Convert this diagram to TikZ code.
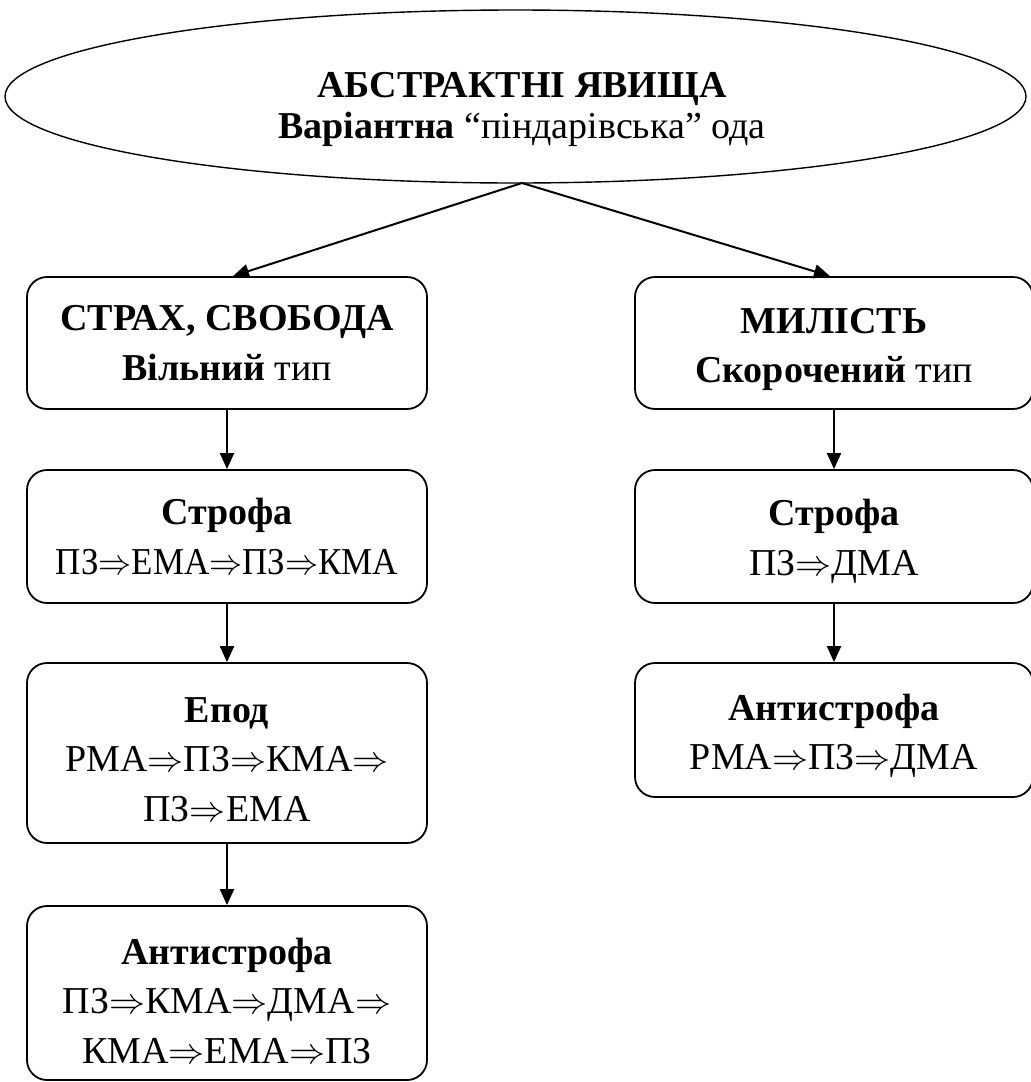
\documentclass[tikz,border=0pt]{standalone}
\usepackage{fontspec}
\setmainfont{Liberation Serif}
\usetikzlibrary{shapes.geometric,arrows.meta}
% double arrow between abbreviations
\newcommand{\ra}{\scalebox{1.45}{$\Rightarrow$}}
% taller first line lowers the text block inside its box
\newcommand{\linestrut}[1]{\rule{0pt}{#1}}
\begin{document}
\begin{tikzpicture}[x=1pt,y=-1pt,
  box/.style={draw, line width=1.8pt, rounded corners=20pt, align=center,
    inner sep=0pt, font=\fontsize{38}{49.5}\selectfont},
  lbl/.style={align=center, inner sep=0pt, font=\fontsize{38}{41}\selectfont},
  arr/.style={-{Triangle[length=16pt,width=14pt]}, line width=2pt}]
\useasboundingbox (0,0) rectangle (1031,1082);

% top ellipse
\node[ellipse, draw, line width=1.4pt, minimum width=1021pt, minimum height=173pt,
  inner sep=0pt] (root) at (515.5,96.5) {};
\node[lbl] (rootlbl) at (522,109) {\textbf{АБСТРАКТНІ ЯВИЩА}\\\textbf{Варіантна} “піндарівська” ода};
\coordinate (apex) at (522,183);

% left column
\node[box, minimum width=400pt, minimum height=132pt] (l1) at (227,343)
  {\textbf{СТРАХ, СВОБОДА}\\\textbf{Вільний} тип};
\node[box, minimum width=400pt, minimum height=133pt] (l2) at (227,536.5)
  {\textbf{Строфа}\\\scalebox{0.92}[1]{ПЗ\ra ЕМА\ra ПЗ\ra КМА}};
\node[box, minimum width=400pt, minimum height=180pt] (l3) at (227,753)
  {\linestrut{38pt}\textbf{Епод}\\РМА\ra ПЗ\ra КМА\ra\\ПЗ\ra ЕМА};
\node[box, minimum width=400pt, minimum height=174pt] (l4) at (227,993)
  {\linestrut{42pt}\textbf{Антистрофа}\\ПЗ\ra КМА\ra ДМА\ra\\КМА\ra ЕМА\ra ПЗ};

% right column
\node[box, minimum width=398pt, minimum height=132pt] (r1) at (834,343)
  {\linestrut{38pt}\textbf{МИЛІСТЬ}\\\textbf{Скорочений} тип};
\node[box, minimum width=398pt, minimum height=133pt] (r2) at (834,536.5)
  {\linestrut{36pt}\textbf{Строфа}\\ПЗ\ra ДМА};
\node[box, minimum width=398pt, minimum height=134pt] (r3) at (834,730)
  {\linestrut{38pt}\textbf{Антистрофа}\\РМА\ra ПЗ\ra ДМА};

% connectors
\draw[arr] (apex) -- ([xshift=6pt]l1.north);
\draw[arr] (apex) -- ([xshift=-4pt]r1.north);
\draw[arr] (l1) -- (l2);
\draw[arr] (l2) -- (l3);
\draw[arr] (l3) -- (l4);
\draw[arr] (r1) -- (r2);
\draw[arr] (r2) -- (r3);
\end{tikzpicture}
\end{document}
